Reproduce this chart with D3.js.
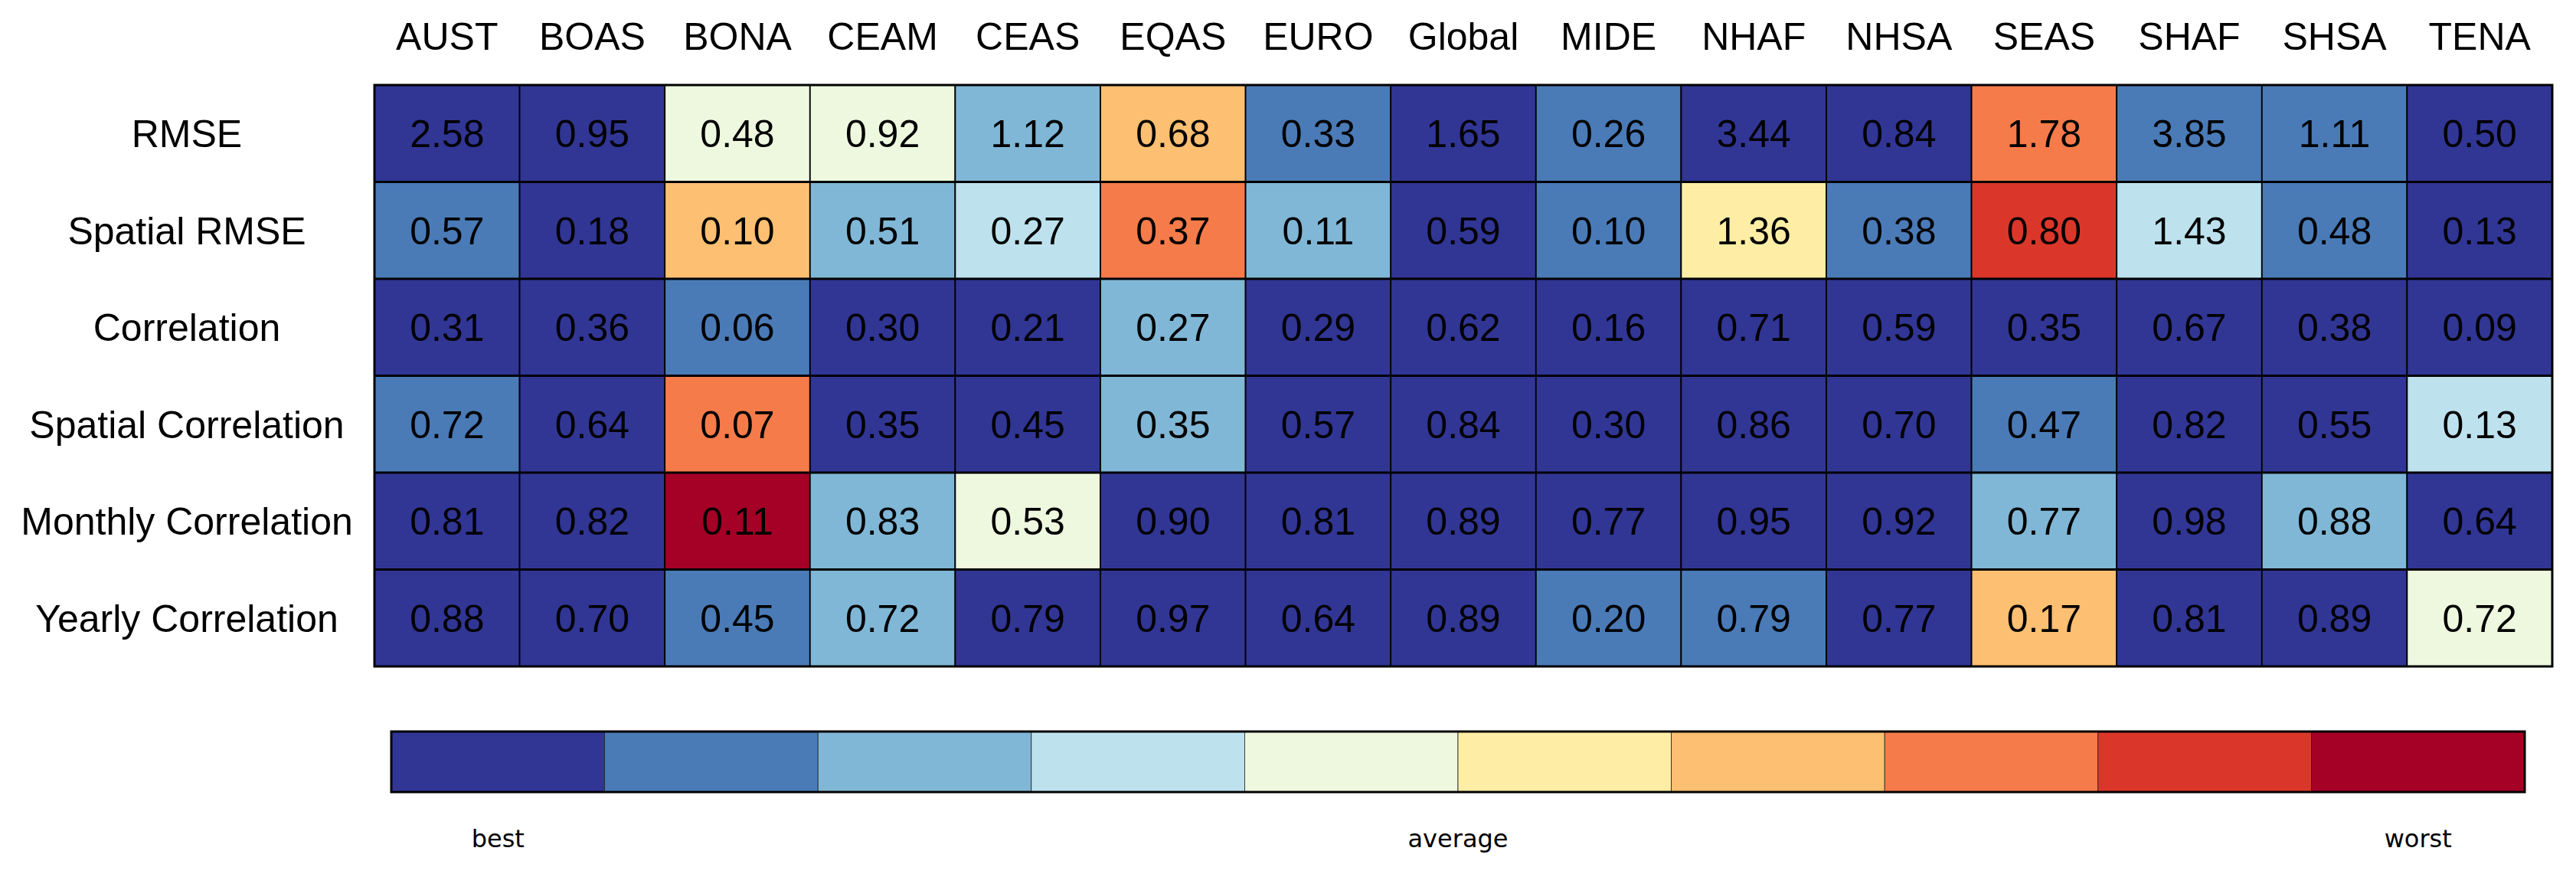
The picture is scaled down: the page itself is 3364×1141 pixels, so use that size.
<!DOCTYPE html>
<html>
<head>
<meta charset="utf-8">
<script src="https://cdn.jsdelivr.net/npm/d3@7"></script>
<style>
  html, body { margin: 0; padding: 0; background: #fff; }
</style>
</head>
<body>
<div id="heatmap"></div>
<script>
// regions along the top, metrics down the side
var regions = ["AUST", "BOAS", "BONA", "CEAM", "CEAS", "EQAS", "EURO", "Global", "MIDE", "NHAF", "NHSA", "SEAS", "SHAF", "SHSA", "TENA"];
var metrics = ["RMSE", "Spatial RMSE", "Correlation", "Spatial Correlation", "Monthly Correlation", "Yearly Correlation"];

// value printed in each cell
var rmse            = [2.58, 0.95, 0.48, 0.92, 1.12, 0.68, 0.33, 1.65, 0.26, 3.44, 0.84, 1.78, 3.85, 1.11, 0.50];
var spatial_rmse    = [0.57, 0.18, 0.10, 0.51, 0.27, 0.37, 0.11, 0.59, 0.10, 1.36, 0.38, 0.80, 1.43, 0.48, 0.13];
var correlation     = [0.31, 0.36, 0.06, 0.30, 0.21, 0.27, 0.29, 0.62, 0.16, 0.71, 0.59, 0.35, 0.67, 0.38, 0.09];
var spatial_corr    = [0.72, 0.64, 0.07, 0.35, 0.45, 0.35, 0.57, 0.84, 0.30, 0.86, 0.70, 0.47, 0.82, 0.55, 0.13];
var monthly_corr    = [0.81, 0.82, 0.11, 0.83, 0.53, 0.90, 0.81, 0.89, 0.77, 0.95, 0.92, 0.77, 0.98, 0.88, 0.64];
var yearly_corr     = [0.88, 0.70, 0.45, 0.72, 0.79, 0.97, 0.64, 0.89, 0.20, 0.79, 0.77, 0.17, 0.81, 0.89, 0.72];

// score class of each cell, 0 = best ... 9 = worst
var rmse_class         = [0, 0, 4, 4, 2, 6, 1, 0, 1, 0, 0, 7, 1, 1, 0];
var spatial_rmse_class = [1, 0, 6, 2, 3, 7, 2, 0, 1, 5, 1, 8, 3, 1, 0];
var correlation_class  = [0, 0, 1, 0, 0, 2, 0, 0, 0, 0, 0, 0, 0, 0, 0];
var spatial_corr_class = [1, 0, 7, 0, 0, 2, 0, 0, 0, 0, 0, 1, 0, 0, 3];
var monthly_corr_class = [0, 0, 9, 2, 4, 0, 0, 0, 0, 0, 0, 2, 0, 2, 0];
var yearly_corr_class  = [0, 0, 1, 2, 0, 0, 0, 0, 1, 1, 0, 6, 0, 0, 4];

var classes = d3.range(10);
var legend_labels = [{ text: "best", at: 0.5 }, { text: "average", at: 5 }, { text: "worst", at: 9.5 }];

var values = [rmse, spatial_rmse, correlation, spatial_corr, monthly_corr, yearly_corr];
var value_classes = [rmse_class, spatial_rmse_class, correlation_class, spatial_corr_class, monthly_corr_class, yearly_corr_class];

function heatmap(){
    var width = 3364;
    var height = 1141;
    var grid_left = 489, grid_right = 3333;
    var grid_top = 111, grid_bottom = 870;
    var bar_left = 511, bar_right = 3297;
    var bar_top = 955, bar_bottom = 1034;

    d3.select("#heatmap").select("svg").remove();
    var svg = d3.select("#heatmap").append("svg")
                .attr("width", width)
                .attr("height", height);

    // RdYlBu reversed, sampled at 10 evenly spaced points
    var rdylbu = ["#313695", "#4575b4", "#74add1", "#abd9e9", "#e0f3f8", "#ffffbf",
                  "#fee090", "#fdae61", "#f46d43", "#d73027", "#a50026"];
    var ramp = d3.scaleLinear()
                 .domain(d3.range(rdylbu.length).map(function(i){ return i / (rdylbu.length - 1); }))
                 .range(rdylbu)
                 .interpolate(d3.interpolateRgb);
    var colorScale = d3.scaleOrdinal()
                       .domain(classes)
                       .range(classes.map(function(c){ return ramp(c / (classes.length - 1)); }));

    var xScale = d3.scaleBand().domain(regions).range([grid_left, grid_right]);
    var yScale = d3.scaleBand().domain(metrics).range([grid_top, grid_bottom]);

    var cells = [];
    metrics.forEach(function(m, i){
        regions.forEach(function(r, j){
            cells.push({ metric: m, region: r, value: values[i][j], cls: value_classes[i][j] });
        });
    });

    svg.append("g").selectAll("rect")
       .data(cells)
       .enter().append("rect")
       .attr("x", function(d){ return xScale(d.region); })
       .attr("y", function(d){ return yScale(d.metric); })
       .attr("width", xScale.bandwidth())
       .attr("height", yScale.bandwidth())
       .attr("fill", function(d){ return colorScale(d.cls); })
       .attr("stroke", "black")
       .attr("stroke-width", 1.8);

    // horizontal row separators look a touch heavier
    svg.append("g").selectAll("line")
       .data(metrics.slice(1))
       .enter().append("line")
       .attr("x1", grid_left)
       .attr("x2", grid_right)
       .attr("y1", function(d){ return yScale(d); })
       .attr("y2", function(d){ return yScale(d); })
       .attr("stroke", "black")
       .attr("stroke-width", 3);

    svg.append("rect")
       .attr("x", grid_left)
       .attr("y", grid_top)
       .attr("width", grid_right - grid_left)
       .attr("height", grid_bottom - grid_top)
       .attr("fill", "none")
       .attr("stroke", "black")
       .attr("stroke-width", 3);

    svg.append("g").selectAll("text")
       .data(cells)
       .enter().append("text")
       .attr("x", function(d){ return xScale(d.region) + xScale.bandwidth() / 2; })
       .attr("y", function(d){ return yScale(d.metric) + yScale.bandwidth() / 2; })
       .attr("text-anchor", "middle")
       .attr("dy", "0.36em")
       .style("font-family", "'Liberation Sans', Arial, sans-serif")
       .style("font-size", "50px")
       .text(function(d){ return d.value.toFixed(2); });

    // column labels
    svg.append("g").selectAll("text")
       .data(regions)
       .enter().append("text")
       .attr("x", function(d){ return xScale(d) + xScale.bandwidth() / 2; })
       .attr("y", 65)
       .attr("text-anchor", "middle")
       .style("font-family", "'Liberation Sans', Arial, sans-serif")
       .style("font-size", "50px")
       .text(function(d){ return d; });

    // row labels
    svg.append("g").selectAll("text")
       .data(metrics)
       .enter().append("text")
       .attr("x", 244)
       .attr("y", function(d){ return yScale(d) + yScale.bandwidth() / 2; })
       .attr("dy", "0.36em")
       .attr("text-anchor", "middle")
       .style("font-family", "'Liberation Sans', Arial, sans-serif")
       .style("font-size", "50px")
       .text(function(d){ return d; });

    // colour bar
    var barScale = d3.scaleLinear().domain([0, classes.length]).range([bar_left, bar_right]);
    svg.append("g").selectAll("rect")
       .data(classes)
       .enter().append("rect")
       .attr("x", function(d){ return barScale(d); })
       .attr("y", bar_top)
       .attr("width", barScale(1) - barScale(0))
       .attr("height", bar_bottom - bar_top)
       .attr("fill", function(d){ return colorScale(d); })
       .attr("stroke", "#222")
       .attr("stroke-width", 0.8);

    svg.append("rect")
       .attr("x", bar_left)
       .attr("y", bar_top)
       .attr("width", bar_right - bar_left)
       .attr("height", bar_bottom - bar_top)
       .attr("fill", "none")
       .attr("stroke", "black")
       .attr("stroke-width", 3);

    svg.append("g").selectAll("text")
       .data(legend_labels)
       .enter().append("text")
       .attr("x", function(d){ return barScale(d.at); })
       .attr("y", 1106)
       .attr("text-anchor", "middle")
       .style("font-family", "'DejaVu Sans', sans-serif")
       .style("font-size", "32px")
       .text(function(d){ return d.text; });
}

heatmap();
</script>
</body>
</html>
